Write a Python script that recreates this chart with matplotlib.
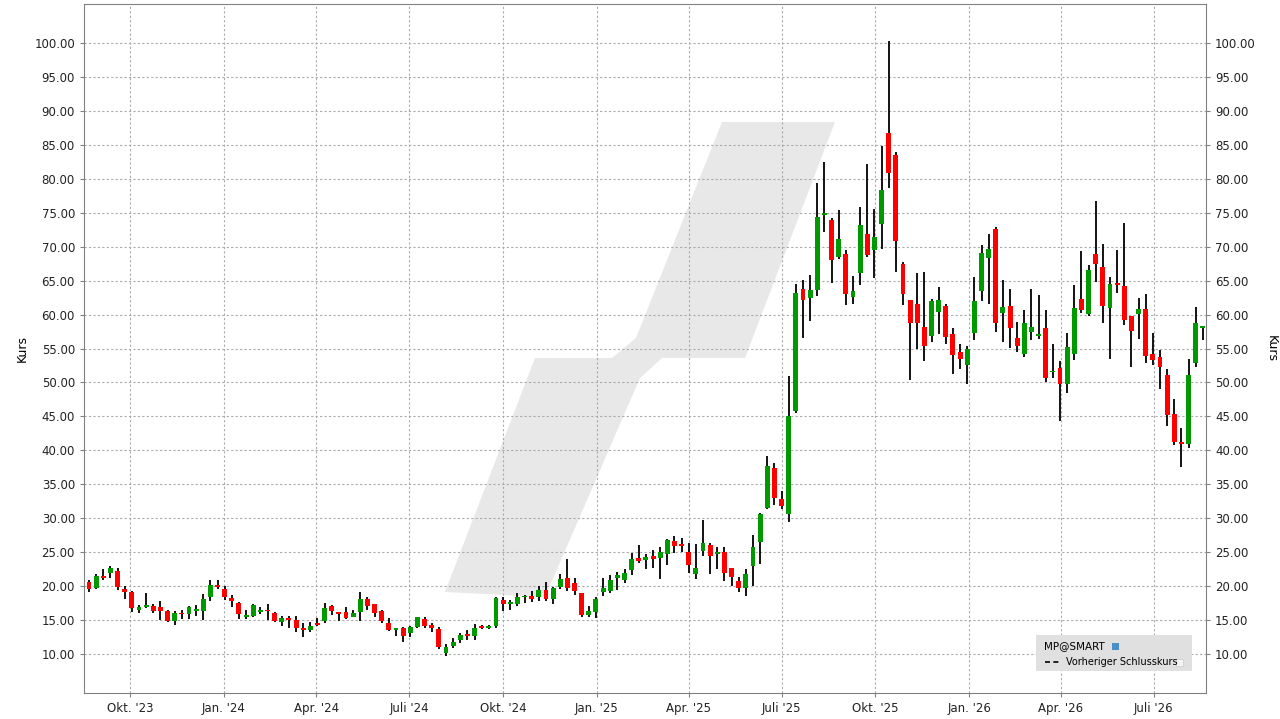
import matplotlib
matplotlib.use("Agg")
import matplotlib.pyplot as plt
import matplotlib.dates as mdates
from matplotlib.patches import Polygon, Rectangle
import datetime as dt

open_ = [20.6,19.75,21.5,22.0,22.25,19.55,19.1,16.55,16.85,17.0,16.85,16.4,14.8,16.1,15.85,16.4,16.4,18.4,20.15,19.55,
         18.2,17.45,15.5,15.65,16.25,16.55,16.1,14.75,15.3,15.0,13.85,13.55,14.6,14.9,17.0,16.2,16.2,15.5,16.2,18.1,
         17.35,16.35,14.6,13.55,13.85,13.1,14.0,15.15,14.3,13.7,10.2,11.2,12.0,12.95,12.7,14.0,13.9,14.1,18.0,17.35,
         17.4,18.35,18.6,18.35,19.5,18.15,19.85,21.15,20.4,19.05,15.8,16.25,19.2,19.35,21.15,20.85,22.3,24.1,23.8,24.4,
         24.1,24.7,26.65,26.2,25.0,21.8,25.2,26.1,24.8,25.0,22.65,20.7,19.75,22.95,26.5,31.55,37.4,32.8,30.65,45.8,
         63.8,62.45,63.65,74.7,74.0,68.55,68.95,62.65,66.05,71.9,69.45,73.4,86.8,83.5,67.45,62.2,61.6,58.2,56.9,60.45,
         61.2,57.2,54.55,52.5,57.35,63.4,68.4,72.6,60.2,61.3,56.6,54.15,57.4,56.8,57.95,51.5,52.15,49.75,54.15,62.25,
         60.05,68.9,67.0,60.95,64.6,64.15,59.75,60.05,60.75,54.15,53.7,51.05,45.3,41.3,41.0,52.85,58.0]
close = [19.6,21.5,21.25,22.65,19.9,19.15,16.75,16.85,17.15,16.4,16.4,14.9,16.1,15.85,16.85,16.7,18.05,20.15,19.9,18.4,
         17.8,15.85,15.8,17.15,16.55,16.3,14.9,15.35,15.0,13.9,13.55,14.15,14.3,16.8,16.35,15.95,15.3,16.05,18.1,17.1,
         16.05,14.8,13.55,13.85,12.7,14.0,15.45,14.15,13.9,11.05,11.05,11.8,12.8,12.7,13.85,13.9,14.1,18.3,17.3,17.7,
         18.45,18.6,18.15,19.5,18.15,19.65,21.0,19.65,19.35,15.8,16.4,18.15,19.65,20.85,21.6,21.9,23.95,23.65,24.25,23.95,
         25.0,26.8,25.9,25.95,23.15,22.65,26.35,24.45,25.0,21.95,21.4,19.75,21.75,25.75,30.6,37.7,33.0,31.8,45.05,63.2,
         62.2,63.65,74.4,75.0,68.0,71.15,63.1,63.5,73.2,68.7,71.45,78.4,80.8,70.9,63.1,58.7,58.7,55.3,62.05,62.2,
         56.75,54.1,53.5,55.0,62.05,69.0,69.6,58.8,61.15,58.05,55.35,58.8,58.1,57.1,50.6,51.75,49.75,55.15,60.9,60.65,
         66.5,67.45,61.25,64.45,64.35,59.2,57.55,60.75,53.85,53.3,52.25,45.15,41.3,41.0,51.05,58.7,58.25]
high = [20.9,21.8,22.5,22.9,22.65,20.0,19.25,17.15,18.95,17.4,17.75,16.5,16.4,16.5,17.0,17.15,18.8,20.9,20.9,20.0,
        18.65,17.6,16.5,17.3,16.9,17.3,16.25,15.65,15.6,15.6,14.5,14.65,15.25,17.5,17.2,16.2,16.9,16.5,19.1,18.4,
        17.35,16.5,15.3,13.85,14.0,14.15,15.45,15.45,14.5,14.0,11.4,12.4,13.1,13.55,14.45,14.2,14.3,18.4,18.45,18.0,
        19.0,18.75,19.35,19.95,20.55,19.8,21.75,23.95,21.15,19.05,17.0,18.45,21.15,21.6,22.05,22.5,24.85,26.05,24.7,25.3,
        25.75,26.95,27.4,27.15,26.4,26.2,29.7,26.3,25.75,25.75,22.65,21.3,22.5,27.6,30.7,39.15,38.1,34.0,50.95,64.5,
        65.1,65.85,79.45,82.5,74.2,75.45,69.45,65.7,75.85,82.2,75.6,84.9,100.3,84.0,67.75,62.2,66.05,66.2,62.35,64.0,
        61.5,57.95,55.6,55.3,65.6,70.2,71.8,72.95,65.15,63.8,58.95,60.6,63.8,62.9,60.6,55.6,53.2,57.35,64.3,69.35,
        67.25,76.7,70.35,65.5,69.5,73.5,59.75,62.45,63.1,57.35,54.75,51.95,47.5,43.25,53.4,61.05,58.25]
low = [19.1,19.6,20.9,21.2,19.4,18.15,16.15,16.0,16.75,16.1,15.05,14.65,14.3,15.15,15.15,15.65,15.05,17.8,19.55,17.9,
       16.9,15.15,15.15,15.5,15.9,15.05,14.65,14.15,13.9,13.3,12.45,13.3,14.15,14.6,15.75,14.9,15.2,15.45,14.9,16.5,
       15.45,14.5,13.4,12.7,11.8,12.45,13.9,13.9,13.2,10.8,9.75,10.9,11.65,12.1,12.1,13.7,13.7,13.9,16.3,16.45,
       17.1,17.55,17.6,17.8,17.85,17.4,19.6,19.35,18.75,15.5,15.5,15.35,18.6,19.05,19.5,20.4,21.6,23.35,22.5,22.6,
       21.0,23.05,24.85,25.05,21.95,21.0,24.45,21.8,22.55,20.8,20.0,19.15,18.6,20.05,23.2,31.3,31.95,31.3,29.5,45.55,
       56.55,59.05,62.8,72.1,64.7,68.15,61.35,61.5,64.3,68.55,65.45,69.6,78.7,66.2,61.35,50.3,54.9,53.1,55.9,57.2,
       55.7,51.3,52.05,49.7,56.3,62.05,61.5,57.4,55.95,55.05,54.45,53.7,56.25,56.4,50.0,50.6,44.25,48.4,53.3,60.3,
       59.8,64.8,58.75,53.4,63.2,58.45,52.25,56.4,52.8,52.55,49.0,43.65,40.85,37.6,40.4,52.25,56.25]

yticks = [10, 15, 20, 25, 30, 35, 40, 45, 50, 55, 60, 65, 70, 75, 80, 85, 90, 95, 100]
xtick_dates = [dt.datetime(2023,10,1), dt.datetime(2024,1,1), dt.datetime(2024,4,1), dt.datetime(2024,7,1),
               dt.datetime(2024,10,1), dt.datetime(2025,1,1), dt.datetime(2025,4,1), dt.datetime(2025,7,1),
               dt.datetime(2025,10,1), dt.datetime(2026,1,1), dt.datetime(2026,4,1), dt.datetime(2026,7,1)]
xtick_labels = ["Okt. '23", "Jan. '24", "Apr. '24", "Juli '24", "Okt. '24", "Jan. '25", "Apr. '25", "Juli '25",
                "Okt. '25", "Jan. '26", "Apr. '26", "Juli '26"]

start = dt.datetime(2023, 8, 22)
dates = [mdates.date2num(start + dt.timedelta(days=7 * i)) for i in range(len(close))]

W, H = 1280, 719
fig = plt.figure(figsize=(W / 100, H / 100), dpi=100)
ax = fig.add_axes([84 / W, 1 - 693 / H, (1206 - 84) / W, (693 - 4) / H])

# watermark (drawn in axes, beneath grid and candles)
pts = [(445, 592), (535, 358), (612, 358), (636, 338), (722, 122), (835, 122), (745, 358),
       (662, 358), (640, 378), (545, 597)]
ax.add_patch(Polygon([(x / W, 1 - y / H) for x, y in pts], closed=True, transform=fig.transFigure,
                     facecolor="#e8e8e8", edgecolor="none", zorder=0.2))

bw = 4.8
for d, o, c, h, l in zip(dates, open_, close, high, low):
    col = "#009900" if c >= o else "#ff0000"
    ax.vlines(d, l, h, color="black", linewidth=1.3, zorder=3)
    ax.add_patch(Rectangle((d - bw / 2, min(o, c)), bw, max(abs(c - o), 0.25), facecolor=col,
                           edgecolor="none", zorder=4))

x0 = mdates.date2num(start) - (89 - 84) / 7.14 * 7
x1 = x0 + (1206 - 84) / 7.14 * 7
ax.set_xlim(x0, x1)
ax.set_ylim(10 - 39 / 6.789, 100 + 39 / 6.789)
ax.set_yticks(yticks)
ax.set_yticklabels([f"{v:.2f}" for v in yticks])
ax.set_xticks([mdates.date2num(d) for d in xtick_dates])
ax.set_xticklabels(xtick_labels)
ax.tick_params(axis="both", labelsize=8.5, length=3, color="#808080", labelcolor="#222222")
ax.tick_params(axis="y", which="both", right=True, labelright=True)
ax.grid(True, color="#aaaaaa", linestyle=(0, (2, 2)), linewidth=0.8, zorder=0.5)
ax.set_axisbelow(True)
for s in ax.spines.values():
    s.set_color("#808080")
ax.set_ylabel("Kurs", fontsize=9)
ax2 = ax.secondary_yaxis("right")
ax2.set_yticks([])
ax2.set_ylabel("Kurs", fontsize=9, rotation=270, labelpad=52)
ax2.spines["right"].set_visible(False)

# legend box
fig.patches.append(Rectangle((1036 / W, 1 - 671 / H), 156 / W, 36 / H, transform=fig.transFigure,
                             facecolor="#e0e0e0", edgecolor="none", zorder=5))
fig.text(1044 / W, 1 - 646 / H, "MP@SMART", fontsize=7.5, va="center", zorder=6)
fig.patches.append(Rectangle((1112 / W, 1 - 650 / H), 7 / W, 7 / H, transform=fig.transFigure,
                             facecolor="#4a8fc8", edgecolor="none", zorder=6))
fig.lines.append(plt.Line2D([1045 / W, 1060 / W], [1 - 662 / H, 1 - 662 / H], transform=fig.transFigure,
                            color="black", linestyle=(0, (3, 2)), linewidth=1.2, zorder=6))
fig.text(1066 / W, 1 - 662 / H, "Vorheriger Schlusskurs", fontsize=7, va="center", zorder=6)
fig.patches.append(Rectangle((1176 / W, 1 - 666 / H), 7 / W, 7 / H, transform=fig.transFigure,
                             facecolor="#f4f4f4", edgecolor="#cccccc", linewidth=0.5, zorder=6))

fig.savefig("out.png", dpi=100)
